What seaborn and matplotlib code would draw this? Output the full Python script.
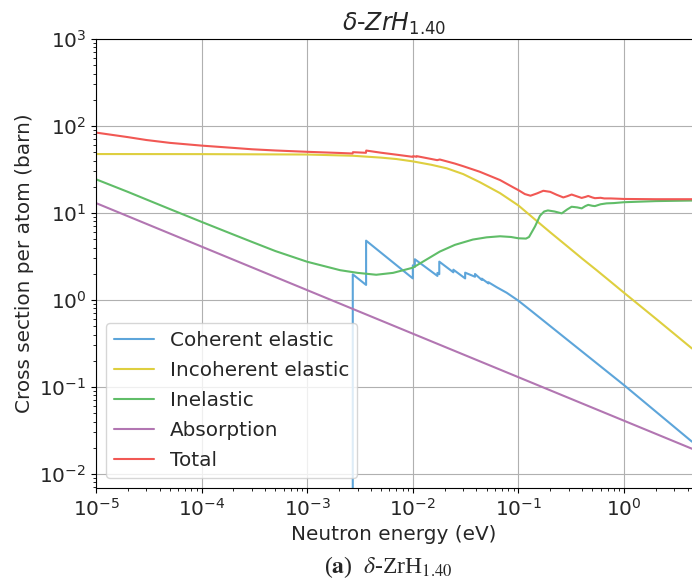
import numpy as np
import pandas as pd
import matplotlib
matplotlib.use("Agg")
import matplotlib.pyplot as plt
import seaborn as sns

# ---- data (energy in eV, cross section in barn) ----
coh_E = [2.70e-3, 2.70e-3, 3.61e-3, 3.61e-3, 1.0e-2, 1.0e-2, 1.045e-2, 1.045e-2,
         1.71e-2, 1.71e-2, 1.78e-2, 1.78e-2, 2.42e-2, 2.42e-2, 3.13e-2, 3.13e-2,
         3.88e-2, 3.88e-2, 4.5e-2, 4.5e-2, 5.2e-2, 5.2e-2, 6.24e-2, 7.75e-2,
         0.1, 0.134, 0.3, 1.0, 4.4]
coh_S = [1e-4, 1.97, 1.49, 4.81, 1.77, 2.50, 2.40, 2.94,
         1.89, 2.05, 1.98, 2.76, 2.08, 2.23, 1.77, 2.06,
         1.85, 1.99, 1.70, 1.76, 1.55, 1.60, 1.40, 1.21,
         0.98, 0.74, 0.338, 0.105, 0.0235]

inc_E = [1e-5, 1e-4, 1e-3, 2.7e-3, 5e-3, 7e-3, 1e-2, 1.5e-2, 2.1e-2, 3e-2,
         4.34e-2, 6.7e-2, 0.1, 0.149, 0.2, 0.286, 0.4, 0.55, 0.734, 1.0, 2.0, 4.4]
inc_S = [47.6, 47.5, 47.0, 45.5, 43.3, 41.7, 39.2, 35.8, 32.6, 28.0,
         22.5, 16.9, 12.2, 8.1, 6.0, 4.2, 3.0, 2.2, 1.65, 1.21, 0.61, 0.277]

inel_E = [1e-5, 2e-5, 3e-5, 5e-5, 1e-4, 2e-4, 3e-4, 5e-4, 1e-3, 2.05e-3, 3e-3, 4.5e-3,
          6.5e-3, 1e-2, 1.4e-2, 1.8e-2, 2.5e-2, 3.7e-2, 5e-2, 6.7e-2, 0.085, 0.1,
          0.118, 0.126, 0.1435, 0.16, 0.175, 0.19, 0.22, 0.257, 0.29, 0.319,
          0.36, 0.397, 0.43, 0.458, 0.5, 0.53, 0.6, 0.684, 0.8, 1.0, 2.0, 4.4]
inel_S = [24.4, 17.5, 14.3, 11.1, 7.9, 5.65, 4.65, 3.65, 2.75, 2.2, 2.05, 1.95,
          2.05, 2.35, 3.0, 3.6, 4.3, 4.95, 5.25, 5.4, 5.3, 5.12,
          5.08, 5.3, 7.0, 9.3, 10.4, 10.7, 10.4, 9.9, 11.0, 11.8,
          11.6, 11.3, 12.0, 12.4, 12.1, 12.0, 12.6, 12.9, 13.0, 13.3, 13.7, 13.9]

abs_E = [1e-5, 4.4]
abs_S = [13.0, 0.0195]

tot_E = [1e-5, 2e-5, 3e-5, 5e-5, 1e-4, 2e-4, 3e-4, 5e-4, 1e-3, 2e-3, 2.69e-3,
         2.71e-3, 3.6e-3, 3.62e-3, 5e-3, 7e-3, 1e-2, 1.01e-2, 1.08e-2, 1.09e-2,
         1.7e-2, 1.8e-2, 2.5e-2, 3e-2, 4.3e-2, 6.7e-2, 0.09, 0.1, 0.115, 0.13,
         0.15, 0.172, 0.2, 0.23, 0.266, 0.29, 0.319, 0.36, 0.397, 0.43,
         0.458, 0.5, 0.53, 0.6, 0.65, 0.75, 1.0, 2.0, 4.4]
tot_S = [84.0, 74.5, 69.0, 64.0, 59.5, 56.0, 54.0, 52.3, 50.5, 49.0, 48.3,
         50.0, 49.2, 52.2, 49.3, 46.8, 44.2, 45.0, 44.3, 45.0,
         40.5, 41.2, 37.0, 34.5, 29.8, 23.9, 19.6, 18.3, 16.5, 15.8,
         16.8, 18.0, 17.5, 16.2, 15.1, 15.6, 16.3, 15.5, 14.9, 15.3,
         15.7, 15.1, 14.8, 14.95, 14.7, 14.7, 14.5, 14.4, 14.4]

labels = ["Coherent elastic", "Incoherent elastic", "Inelastic", "Absorption", "Total"]
colors = ["#5DA5DA", "#DECF3F", "#60BD68", "#B276B2", "#F15854"]
series = [(coh_E, coh_S), (inc_E, inc_S), (inel_E, inel_S), (abs_E, abs_S), (tot_E, tot_S)]

sns.set_theme(style="ticks")
plt.rcParams["font.family"] = ["DejaVu Sans"]

fs = 14.4
fig = plt.figure(figsize=(6.92, 5.79), dpi=100)
ax = fig.add_axes([96 / 692, (579 - 488) / 579, (692 - 96) / 692, (488 - 39) / 579])

for (E, S), lab, col in zip(series, labels, colors):
    df = pd.DataFrame({"E": E, "S": S})
    sns.lineplot(data=df, x="E", y="S", ax=ax, color=col, label=lab,
                 estimator=None, sort=False, lw=1.5)

ax.set_xscale("log")
ax.set_yscale("log")
ax.set_xlim(1e-5, 4.4)
ax.set_ylim(0.0069, 1000)
ax.grid(True, which="major", color="#b0b0b0", lw=0.8)
for s in ["left", "top", "bottom"]:
    ax.spines[s].set_color("black")
    ax.spines[s].set_linewidth(0.8)
ax.spines["right"].set_visible(False)
ax.tick_params(axis="both", which="major", labelsize=fs, length=3.5, width=0.8, color="black")
ax.tick_params(axis="both", which="minor", length=2, width=0.6, color="black")

ax.set_xlabel("Neutron energy (eV)", fontsize=fs)
ax.set_ylabel("Cross section per atom (barn)", fontsize=fs)
ax.set_title(r"$\delta$-$ZrH_{1.40}$", fontsize=17)

leg = ax.legend(loc="lower left", fontsize=fs, frameon=True, framealpha=0.8,
                fancybox=True, edgecolor="#cccccc", labelspacing=0.55)

fig.text(388 / 692, 1 - 567 / 579, r"($\mathbf{a}$)  $\delta$-ZrH$_{1.40}$",
         ha="center", va="center", fontsize=17, family="Liberation Serif",
         math_fontfamily="stix")

fig.savefig("out.png", dpi=100)
